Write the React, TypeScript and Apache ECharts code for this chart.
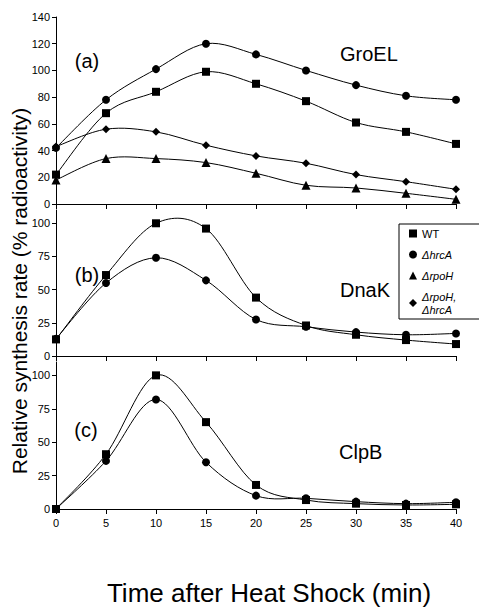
import React, { useEffect, useRef } from "react";
import * as echarts from "echarts";

const times = [0, 5, 10, 15, 20, 25, 30, 35, 40];
const xTicks = [0, 5, 10, 15, 20, 25, 30, 35, 40];

// Panel (a) GroEL
const groelWT = [22, 68, 84, 99, 90, 77, 61, 54, 45];
const groelHrcA = [42, 78, 101, 120, 112, 100, 89, 81, 78];
const groelRpoH = [18, 34, 34, 31, 23, 14, 12, 8, 3.5];
const groelRpoHHrcA = [43, 56, 54, 44, 36, 30.5, 22, 16.7, 11];

// Panel (b) DnaK
const dnakWT = [12.5, 61, 100, 96, 44, 23, 16, 12, 9];
const dnakHrcA = [13, 55, 74, 57, 27.5, 22, 18, 16, 17];

// Panel (c) ClpB
const clpbWT = [0, 41, 100, 65, 18, 6.7, 4, 3, 3.5];
const clpbHrcA = [0, 36, 82, 35, 10, 8, 5.5, 4, 5];

const yTicksA = [0, 20, 40, 60, 80, 100, 120, 140];
const yTicksBC = [0, 25, 50, 75, 100];

const seriesNames = ["WT", "ΔhrcA", "ΔrpoH", "ΔrpoH, ΔhrcA"];
const panelLabels = ["(a)", "(b)", "(c)"];
const proteinNames = ["GroEL", "DnaK", "ClpB"];
const xTitle = "Time after Heat Shock (min)";
const yTitle = "Relative synthesis rate (% radioactivity)";

const FONT = "'Liberation Sans', Arial, Helvetica, sans-serif";

const symbolOf: Record<string, string> = {
  WT: "rect",
  "ΔhrcA": "circle",
  "ΔrpoH": "triangle",
  "ΔrpoH, ΔhrcA": "diamond",
};
const sizeOf: Record<string, number> = {
  WT: 8,
  "ΔhrcA": 8,
  "ΔrpoH": 9,
  "ΔrpoH, ΔhrcA": 8,
};

// markers (line series, no line drawn)
function markers(name: string, values: number[], idx: number) {
  return {
    name,
    type: "line",
    xAxisIndex: idx,
    yAxisIndex: idx,
    data: times.map((t, i) => [t, values[i]]),
    symbol: symbolOf[name],
    symbolSize: sizeOf[name],
    showSymbol: true,
    lineStyle: { opacity: 0, width: 0 },
    itemStyle: { color: "#000" },
    emphasis: { disabled: true },
    z: 4,
  };
}

// smooth curve through the data points (Catmull-Rom spline), via custom series
function curve(values: number[], idx: number) {
  const n = values.length;
  return {
    type: "custom",
    xAxisIndex: idx,
    yAxisIndex: idx,
    data: times.map((t, i) => [t, values[i]]),
    encode: { x: 0, y: 1 },
    silent: true,
    z: 2,
    renderItem: (params: any, api: any) => {
      const i = params.dataIndex;
      if (i >= n - 1) return null;
      const c = (j: number) => {
        const k = Math.max(0, Math.min(n - 1, j));
        return api.coord([times[k], values[k]]);
      };
      const p0 = c(i - 1);
      const p1 = c(i);
      const p2 = c(i + 1);
      const p3 = c(i + 2);
      return {
        type: "bezierCurve",
        shape: {
          x1: p1[0],
          y1: p1[1],
          x2: p2[0],
          y2: p2[1],
          cpx1: p1[0] + (p2[0] - p0[0]) / 6,
          cpy1: p1[1] + (p2[1] - p0[1]) / 6,
          cpx2: p2[0] - (p3[0] - p1[0]) / 6,
          cpy2: p2[1] - (p3[1] - p1[1]) / 6,
        },
        style: { stroke: "#000", lineWidth: 1, fill: null },
      };
    },
  };
}

export default function App() {
  const ref = useRef<HTMLDivElement>(null);
  useEffect(() => {
    if (!ref.current) return;
    const chart = echarts.init(ref.current, null, { renderer: "svg" });
    const grids = [
      { left: 56, right: 23, top: 17, height: 187 },
      { left: 56, right: 23, top: 210, height: 146 },
      { left: 56, right: 23, top: 362, height: 147 },
    ];
    const axisLine = { show: true, lineStyle: { color: "#000", width: 1 } };
    const xAxes = grids.map((_, i) => ({
      type: "value",
      gridIndex: i,
      min: 0,
      max: 40,
      interval: 5,
      axisLine,
      axisTick: { show: true, inside: false, length: 5, lineStyle: { color: "#000" }, customValues: xTicks },
      axisLabel: {
        show: i === 2,
        margin: 8,
        color: "#000",
        fontSize: 11,
        fontFamily: FONT,
        customValues: xTicks,
      },
      splitLine: { show: false },
    }));
    const yAxes = grids.map((_, i) => ({
      type: "value",
      gridIndex: i,
      min: 0,
      max: i === 0 ? 140 : 110,
      interval: i === 0 ? 20 : 25,
      axisLine,
      axisTick: {
        show: true,
        inside: false,
        length: 4,
        lineStyle: { color: "#000" },
        customValues: i === 0 ? yTicksA : yTicksBC,
      },
      axisLabel: {
        margin: 6,
        color: "#000",
        fontSize: 11,
        fontFamily: FONT,
        customValues: i === 0 ? yTicksA : yTicksBC,
      },
      splitLine: { show: false },
    }));

    const panels: [string, number[], number][] = [
      ["WT", groelWT, 0],
      ["ΔhrcA", groelHrcA, 0],
      ["ΔrpoH", groelRpoH, 0],
      ["ΔrpoH, ΔhrcA", groelRpoHHrcA, 0],
      ["WT", dnakWT, 1],
      ["ΔhrcA", dnakHrcA, 1],
      ["WT", clpbWT, 2],
      ["ΔhrcA", clpbHrcA, 2],
    ];
    const series: any[] = [];
    panels.forEach(([name, vals, idx]) => {
      series.push(curve(vals, idx));
      series.push(markers(name, vals, idx));
    });

    const labelPos = [
      [87, 61],
      [87, 275],
      [86, 430],
    ];
    const protPos = [
      [340, 54],
      [340, 290],
      [339, 452],
    ];
    const graphic: any[] = [];
    panelLabels.forEach((t, i) => {
      graphic.push({
        type: "text",
        x: labelPos[i][0],
        y: labelPos[i][1],
        style: { text: t, font: `20px ${FONT}`, fill: "#000", textAlign: "center", textVerticalAlign: "middle" },
      });
    });
    proteinNames.forEach((t, i) => {
      graphic.push({
        type: "text",
        x: protPos[i][0],
        y: protPos[i][1],
        style: { text: t, font: `20px ${FONT}`, fill: "#000", textAlign: "left", textVerticalAlign: "middle" },
      });
    });
    graphic.push({
      type: "text",
      x: 19,
      y: 291,
      rotation: Math.PI / 2,
      style: { text: yTitle, font: `21px ${FONT}`, fill: "#000", textAlign: "center", textVerticalAlign: "middle" },
    });
    graphic.push({
      type: "text",
      x: 269,
      y: 593,
      style: { text: xTitle, font: `26px ${FONT}`, fill: "#000", textAlign: "center", textVerticalAlign: "middle" },
    });

    chart.setOption({
      animation: false,
      backgroundColor: "#fff",
      grid: grids,
      xAxis: xAxes,
      yAxis: yAxes,
      series,
      legend: {
        left: 399,
        top: 224,
        orient: "vertical",
        selectedMode: false,
        backgroundColor: "#fff",
        borderColor: "#000",
        borderWidth: 1,
        padding: [3, 40, 3, 10],
        itemWidth: 8,
        itemHeight: 8,
        itemGap: 8,
        itemTextGap: 8,
        data: seriesNames.map((n) => ({ name: n, icon: symbolOf[n], itemStyle: { color: "#000" } })),
        formatter: (name: string) => {
          if (name === "WT") return name;
          if (name === "ΔrpoH, ΔhrcA") return "{i|ΔrpoH,}\n{i|ΔhrcA}";
          return `{i|${name}}`;
        },
        textStyle: {
          color: "#000",
          fontSize: 11,
          fontFamily: FONT,
          lineHeight: 13,
          rich: { i: { fontStyle: "italic", fontSize: 11, fontFamily: FONT, lineHeight: 13, color: "#000" } },
        },
      },
      graphic,
    });
    return () => chart.dispose();
  }, []);
  return (
    <div
      ref={ref}
      style={{ position: "fixed", left: 0, top: 0, width: 479, height: 607, background: "#fff" }}
    />
  );
}
